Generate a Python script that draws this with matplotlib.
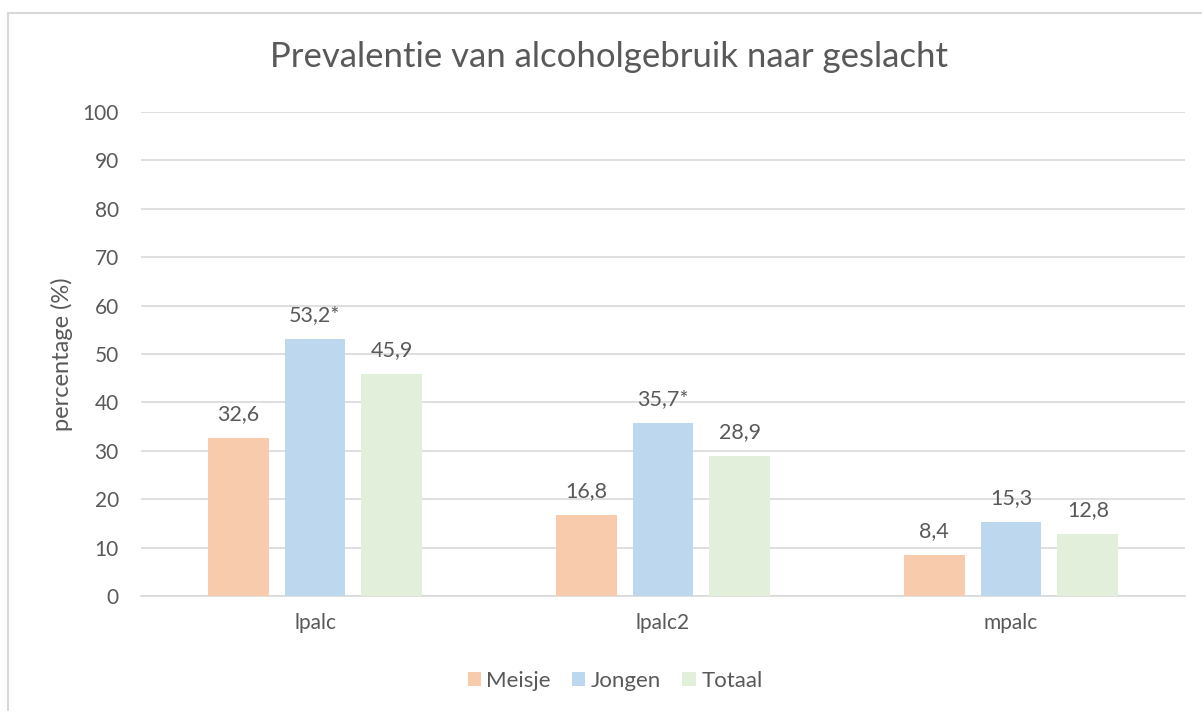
import matplotlib.pyplot as plt
import numpy as np
from matplotlib.patches import Rectangle

categories = ["lpalc", "lpalc2", "mpalc"]
series_names = ["Meisje", "Jongen", "Totaal"]
meisje = [32.6, 16.8, 8.4]
jongen = [53.2, 35.7, 15.3]
totaal = [45.9, 28.9, 12.8]
labels_meisje = ["32,6", "16,8", "8,4"]
labels_jongen = ["53,2*", "35,7*", "15,3"]
labels_totaal = ["45,9", "28,9", "12,8"]
yticks = list(range(0, 101, 10))

colors = ["#F8CBAD", "#BDD7EE", "#E2EFDA"]
txt = "#595959"

plt.rcParams['font.family'] = ['Lato', 'DejaVu Sans']

W, H = 1202, 711
fig = plt.figure(figsize=(W / 100, H / 100), dpi=100)

# chart frame
fig.patches.append(Rectangle((8 / W, -0.05), 1.1, 1 - 13 / H + 0.05, transform=fig.transFigure,
                             fill=False, edgecolor="#D9D9D9", linewidth=1.5, zorder=0))

left, right = 141, 1185
top, bottom = 112, 596
ax = fig.add_axes([left / W, 1 - bottom / H, (right - left) / W, (bottom - top) / H])

x = np.arange(len(categories))
bw = 0.175
step = 0.221
all_vals = [meisje, jongen, totaal]
all_labels = [labels_meisje, labels_jongen, labels_totaal]
for i, (vals, labs, name) in enumerate(zip(all_vals, all_labels, series_names)):
    bars = ax.bar(x + (i - 1) * step, vals, width=bw, color=colors[i], label=name, zorder=3)
    for b, lab in zip(bars, labs):
        ax.annotate(lab, (b.get_x() + b.get_width() / 2, b.get_height()),
                    xytext=(0, 10), textcoords="offset points", ha="center", va="bottom",
                    fontsize=15.5, color=txt)

ax.set_xlim(-0.5, 2.5)
ax.set_ylim(0, 100)
ax.set_yticks(yticks)
ax.set_xticks(x)
ax.set_xticklabels(categories)
ax.tick_params(axis="both", length=0, labelsize=15, labelcolor=txt)
ax.tick_params(axis="y", pad=16)
ax.tick_params(axis="x", pad=12)
ax.grid(axis="y", color="#D9D9D9", linewidth=1.2, zorder=0)
for s in ["top", "right", "left"]:
    ax.spines[s].set_visible(False)
ax.spines["bottom"].set_color("#D9D9D9")
ax.spines["bottom"].set_linewidth(1.2)
ax.set_ylabel("percentage (%)", fontsize=17, color=txt, labelpad=7)

fig.text(609.5 / W, 1 - 57 / H, "Prevalentie van alcoholgebruik naar geslacht",
         ha="center", va="center", fontsize=25, color=txt)

leg = fig.legend(loc="center", bbox_to_anchor=(615 / W, 1 - 681 / H), ncol=3, frameon=False,
                 fontsize=16, handlelength=0.6, handleheight=0.6, handletextpad=0.25,
                 columnspacing=0.95)
for t in leg.get_texts():
    t.set_color(txt)

fig.savefig("out.png", dpi=100)
